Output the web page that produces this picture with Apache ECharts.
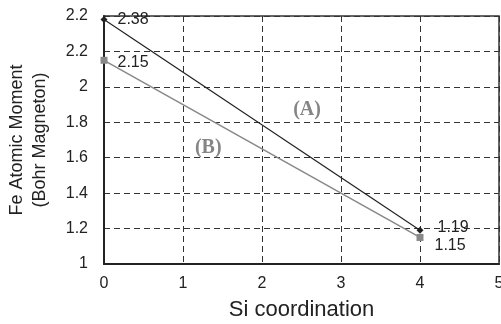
<!DOCTYPE html>
<html><head><meta charset="utf-8">
<script src="https://cdn.jsdelivr.net/npm/echarts@6/dist/echarts.min.js"></script>
<style>html,body{margin:0;padding:0;background:#fff}#c{width:501px;height:324px}</style>
</head><body><div id="c"></div>
<script>
const xValues = [0, 4];
const seriesA = [2.38, 1.19];
const seriesB = [2.15, 1.15];
const labelsA = ['2.38', '1.19'];
const labelsB = ['2.15', '1.15'];
const yTickLabels = ['1', '1.2', '1.4', '1.6', '1.8', '2', '2.2', '2.2'];
const xTickLabels = ['0', '1', '2', '3', '4', '5'];
const annotationTexts = ['(A)', '(B)'];
const annotationX = [2.57, 1.32];
const annotationY = [1.87, 1.655];

// label offsets (style only)
const offsetsA = [[2, 0], [6, -3]];
const offsetsB = [[2, 2], [3, 8]];

const chart = echarts.init(document.getElementById('c'), null, {renderer: 'canvas'});
const font = 'Liberation Sans, Arial, sans-serif';
function buildData(vals, labels, offsets) {
  return xValues.map((x, i) => ({
    value: [x, vals[i]],
    label: {formatter: labels[i], offset: offsets[i]}
  }));
}
chart.setOption({
  animation: false,
  grid: {left: 104, top: 16, right: 2, bottom: 60, show: true, borderColor: '#333', borderWidth: 1.5,
    containLabel: false, outerBoundsMode: 'none'},
  xAxis: {
    type: 'value', min: 0, max: 5, interval: 1,
    name: 'Si coordination', nameLocation: 'middle', nameGap: 35,
    nameTextStyle: {fontFamily: font, fontSize: 22, color: '#222'},
    axisLine: {show: true, lineStyle: {color: '#222', width: 2}},
    axisTick: {show: false},
    axisLabel: {fontFamily: font, fontSize: 16, color: '#222', margin: 12,
      formatter: (v) => xTickLabels[Math.round(v)]},
    splitLine: {show: true, lineStyle: {color: '#333', type: [6, 4], width: 1}}
  },
  yAxis: {
    type: 'value', min: 1, max: 2.4, interval: 0.2,
    name: 'Fe Atomic Moment\n(Bohr Magneton)', nameLocation: 'middle', nameGap: 52,
    nameTextStyle: {fontFamily: font, fontSize: 18, color: '#222', lineHeight: 23},
    axisLine: {show: true, lineStyle: {color: '#222', width: 2}},
    axisTick: {show: false},
    axisLabel: {fontFamily: font, fontSize: 16, color: '#222', margin: 16,
      formatter: (v) => yTickLabels[Math.round((v - 1) / 0.2)]},
    splitLine: {show: true, lineStyle: {color: '#333', type: [6, 4], width: 1}}
  },
  series: [
    {
      name: 'A', type: 'line', data: buildData(seriesA, labelsA, offsetsA),
      symbol: 'diamond', symbolSize: 7, z: 3,
      lineStyle: {color: '#222', width: 1.2}, itemStyle: {color: '#222'},
      label: {show: true, position: 'right', distance: 8, fontFamily: font, fontSize: 16, color: '#222'}
    },
    {
      name: 'B', type: 'line', data: buildData(seriesB, labelsB, offsetsB),
      symbol: 'rect', symbolSize: 7, z: 2,
      lineStyle: {color: '#888', width: 1.5}, itemStyle: {color: '#888'},
      label: {show: true, position: 'right', distance: 8, fontFamily: font, fontSize: 16, color: '#222'}
    },
    {
      type: 'scatter', symbolSize: 0, z: 4,
      data: annotationTexts.map((t, i) => ({value: [annotationX[i], annotationY[i]], name: t})),
      label: {show: true, position: 'inside', fontFamily: 'Liberation Serif, Times New Roman, serif',
        fontSize: 20, fontWeight: 'bold', color: '#666', formatter: (p) => p.name}
    }
  ]
});
</script></body></html>
